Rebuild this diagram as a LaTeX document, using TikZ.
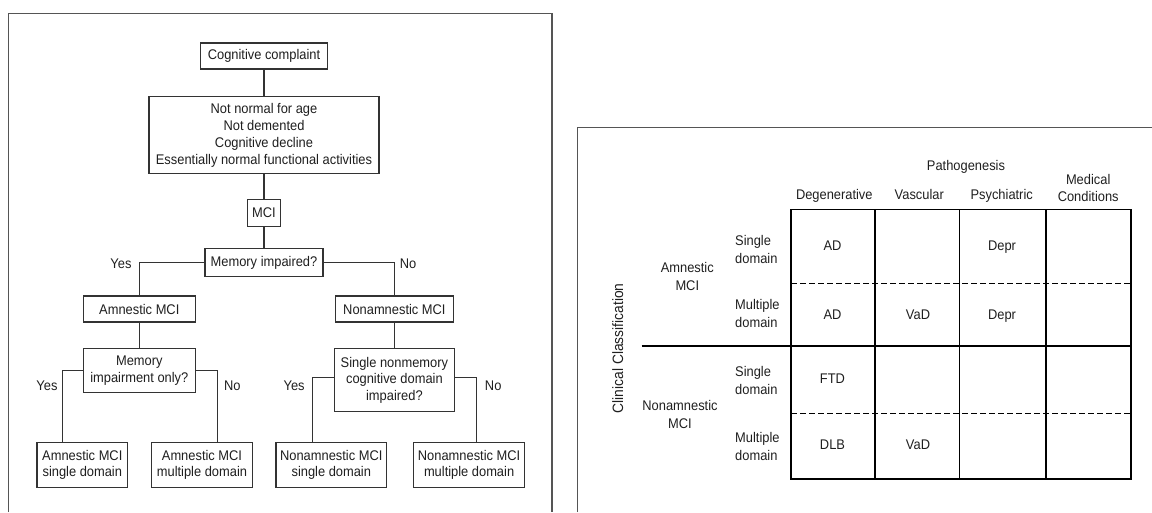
\documentclass[tikz,border=0pt]{standalone}
\usepackage{fontspec}
\setmainfont{Liberation Sans}[FakeStretch=0.92]
\usepackage{tikz}
\usetikzlibrary{positioning}
\definecolor{mciInk}{HTML}{1F1F1F}
\definecolor{mciLine}{HTML}{333333}
\definecolor{mciFrame}{HTML}{555555}

\begin{document}
\begin{tikzpicture}[
  x=1pt, y=-1pt,
  every node/.style={font=\fontsize{14}{16.8}\selectfont, text=mciInk},
  box/.style={draw=mciLine, line width=1.1pt, fill=white, align=center,
              inner sep=2pt},
  lbl/.style={inner sep=1pt},
  link/.style={draw=mciLine, line width=1.1pt},
  frame/.style={draw=mciFrame, line width=1.1pt},
  gridline/.style={draw=black, line width=1.8pt},
  dashline/.style={draw=black, line width=1.5pt, dash pattern=on 6pt off 3pt},
  hdr/.style={text height=10pt, text depth=3pt, inner sep=0pt},
  rowlbl/.style={align=left, inner sep=0pt, font=\fontsize{14}{18}\selectfont},
  grplbl/.style={align=center, inner sep=0pt, font=\fontsize{14}{18}\selectfont}
]
\useasboundingbox (0,0) rectangle (1152,512);

% panel frames
\draw[frame] (8.3,512) -- (8.3,13.3) -- (552,13.3) -- (552,512);
\draw[frame] (577.7,512) -- (577.7,127.7) -- (1152,127.7);

% decision tree
\node[box, minimum width=127pt, minimum height=26pt] (cc) at (264,56) {Cognitive complaint};
\node[box, minimum width=230pt, minimum height=77pt, below=26.7pt of cc] (crit)
  {Not normal for age\\ Not demented\\ Cognitive decline\\ Essentially normal functional activities};
\node[box, minimum width=33pt, minimum height=27pt, below=24.4pt of crit] (mci) {MCI};
\node[box, minimum width=118pt, minimum height=28pt, below=21pt of mci] (memq) {Memory impaired?};
\node[box, minimum width=112pt, minimum height=26pt] (amn) at (139.3,309) {Amnestic MCI};
\node[box, minimum width=118pt, minimum height=26pt] (non) at (394.4,309) {Nonamnestic MCI};
\node[box, minimum width=112pt, minimum height=44pt, below=25.7pt of amn] (memonly)
  {Memory\\ impairment only?};
\node[box, minimum width=119.6pt, minimum height=63pt, below=25.7pt of non] (single)
  {Single nonmemory\\ cognitive domain\\ impaired?};
\node[box, minimum width=90.6pt, minimum height=45.5pt] (aSingle) at (82.3,464.8) {Amnestic MCI\\ single domain};
\node[box, minimum width=100.6pt, minimum height=45.5pt] (aMulti) at (202,464.8) {Amnestic MCI\\ multiple domain};
\node[box, minimum width=110.6pt, minimum height=45.5pt] (nSingle) at (331.3,464.8) {Nonamnestic MCI\\ single domain};
\node[box, minimum width=111pt, minimum height=45.5pt] (nMulti) at (469.1,464.8) {Nonamnestic MCI\\ multiple domain};

\draw[link] (cc) -- (crit);
\draw[link] (crit) -- (mci);
\draw[link] (mci) -- (memq);
\draw[link] (memq.west) -| (amn.north);
\draw[link] (memq.east) -| (non.north);
\draw[link] (amn) -- (memonly);
\draw[link] (non) -- (single);
\draw[link] (memonly.west) -| ([xshift=-19.4pt]aSingle.north);
\draw[link] (memonly.east) -| ([xshift=15.2pt]aMulti.north);
\draw[link] ([yshift=3pt]single.west) -| ([xshift=-18.7pt]nSingle.north);
\draw[link] ([yshift=3pt]single.east) -| ([xshift=7.4pt]nMulti.north);

\node[lbl] (yes1) at (121,264) {Yes};
\node[lbl] (no1) at (408,264) {No};
\node[lbl] (yes2) at (47,385.7) {Yes};
\node[lbl] (no2) at (232.3,385.7) {No};
\node[lbl] (yes3) at (294.1,385.7) {Yes};
\node[lbl] (no3) at (493.2,385.7) {No};

% classification grid
\node (patho) at (966,167.3) {Pathogenesis};
\foreach \name/\x/\txt in {deg/834.3/Degenerative, vas/919.3/Vascular, psy/1001.7/Psychiatric}
  \node[hdr] (\name) at (\x,196) {\txt};
\node[grplbl, font=\fontsize{14}{17}\selectfont] (med) at (1088.2,187.5) {Medical\\ Conditions};

\foreach \y in {283.3,413.3}
  \draw[dashline] (791,\y) -- (1131,\y);
\draw[gridline] (791,209.5) rectangle (1131,478.8);
\foreach \x in {875,959.5,1046}
  \draw[gridline] (\x,209.5) -- (\x,478.8);
\draw[gridline] (641.7,346) -- (1131,346);

\foreach \txt/\x/\y [count=\i] in {AD/832.5/246.5, Depr/1002/246.5, AD/832.5/315.5,
    VaD/918/315.5, Depr/1002/315.5, FTD/832.5/380, DLB/832.5/446, VaD/918/446}
  \node[hdr] (cell\i) at (\x,\y) {\txt};

\foreach \txt/\y [count=\i] in {Single/249, Multiple/313.8, Single/380, Multiple/446.7}
  \node[rowlbl, anchor=west] (dom\i) at (735,\y) {\txt\\ domain};

\node[grplbl] (amnGrp) at (687.3,276) {Amnestic\\ MCI};
\node[grplbl] (nonGrp) at (680,414.7) {Nonamnestic\\ MCI};
\node[rotate=90, font=\fontsize{15}{18}\selectfont] (clin) at (617.7,348.3) {Clinical Classification};
\end{tikzpicture}
\end{document}
